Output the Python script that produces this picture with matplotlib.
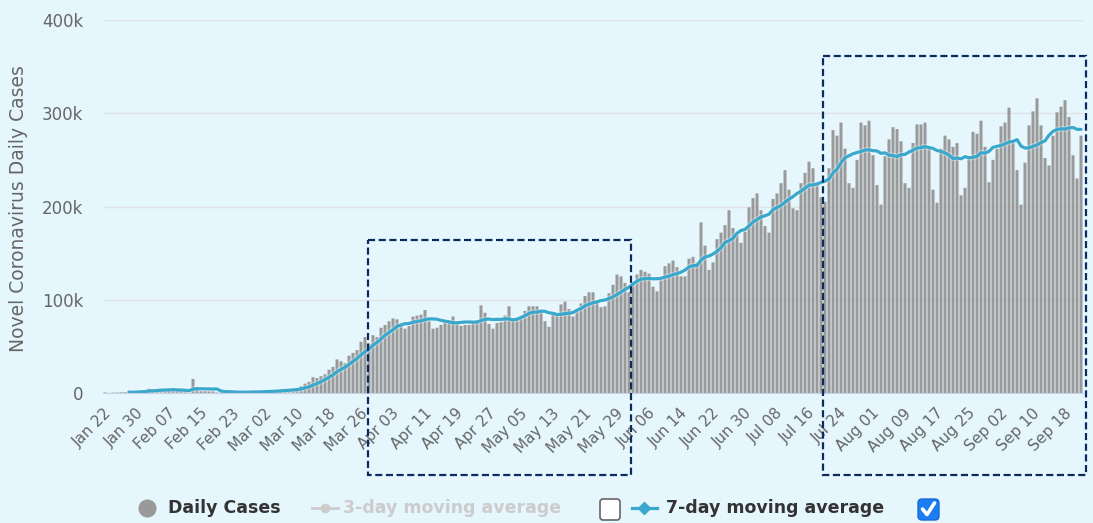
import matplotlib
matplotlib.use("Agg")
import matplotlib.pyplot as plt
import matplotlib.transforms as mtransforms
import numpy as np
import pandas as pd
from matplotlib.patches import Rectangle, FancyBboxPatch
from matplotlib.lines import Line2D

# daily new cases, thousands (2020-01-22 .. 2020-09-22)
start_date = "2020-01-22"
jan = [0.6, 0.1, 0.3, 0.5, 0.7, 0.8, 2.7, 0.6, 2.1, 1.7]
feb = [2.1, 4.7, 3.1, 4.0, 3.7, 3.2, 3.6, 2.7, 3.0, 2.6, 2.0, 0.4, 15.1, 6.5,
       2.0, 2.2, 1.9, 1.9, 0.5, 0.6, 1.0, 1.8, 0.5, 0.6, 0.9, 0.9, 1.1, 1.4, 1.9]
mar = [1.8, 1.8, 2.2, 2.2, 2.7, 4.0, 3.9, 4.1, 4.0, 4.5, 7.4, 10, 12, 17, 16,
       18, 20, 25, 28, 36, 34, 32, 40, 43, 46, 55, 60, 53, 62, 60, 70]
apr = [73, 77, 80, 79, 72, 69, 72, 82, 83, 84, 89, 77, 69, 70, 73, 78, 78, 82,
       77, 72, 73, 73, 77, 78, 94, 86, 74, 69, 75, 76]
may = [83, 93, 79, 79, 82, 88, 93, 93, 93, 87, 77, 71, 84, 84, 95, 98, 90, 82,
       89, 96, 104, 108, 108, 97, 92, 93, 107, 116, 127, 125, 118]
jun = [108, 118, 127, 132, 130, 128, 114, 109, 121, 136, 139, 142, 135, 125,
       125, 144, 146, 140, 183, 158, 132, 140, 165, 172, 180, 196, 177, 169,
       161, 173]
jul = [199, 209, 214, 196, 179, 172, 208, 214, 225, 239, 218, 198, 196, 225,
       236, 248, 241, 225, 210, 205, 241, 282, 276, 290, 262, 225, 220, 250,
       290, 287, 292]
aug = [255, 223, 202, 254, 272, 285, 283, 270, 225, 220, 268, 288, 288, 290,
       264, 218, 204, 262, 276, 272, 264, 268, 212, 220, 254, 280, 278, 292,
       264, 226, 250]
sep = [262, 286, 290, 306, 269, 239, 202, 247, 287, 302, 316, 287, 252, 244,
       276, 301, 307, 314, 296, 255, 230, 276]

y_ticks = [0, 100, 200, 300, 400]
y_tick_labels = ["0", "100k", "200k", "300k", "400k"]

daily = np.array(jan + feb + mar + apr + may + jun + jul + aug + sep) * 1000
dates = pd.date_range(start_date, periods=len(daily), freq="D")
cases = pd.Series(daily, index=dates)
avg7 = cases.rolling(7).mean()

W, H = 1093, 523
BG = "#e6f6fd"
BAR = "#999999"
LINE = "#38a8cd"
NAVY = "#0b2a5e"

fig = plt.figure(figsize=(W / 100, H / 100), dpi=100)
fig.patch.set_facecolor(BG)
ax = fig.add_axes([103 / W, 1 - 393 / H, 980 / W, 373 / H])
ax.set_facecolor(BG)

x = np.arange(len(cases))
bars = ax.bar(x, cases.values, width=0.75, color=BAR, edgecolor="none",
              zorder=2)
for b in bars:
    b.set_snap(False)
ax.plot(x, avg7.values, color="white", lw=4.0, alpha=0.35, zorder=3)
ax.plot(x, avg7.values, color=LINE, lw=2.3, zorder=3, solid_capstyle="round")

ax.set_xlim(-0.5, len(cases) - 0.5)
ax.set_ylim(0, 400000)
ax.set_yticks([v * 1000 for v in y_ticks])
ax.set_yticklabels(y_tick_labels)
ax.set_axisbelow(True)
ax.grid(axis="y", color="#dfe3e5", lw=1.0)
for s in ["top", "right", "left"]:
    ax.spines[s].set_visible(False)
ax.spines["bottom"].set_color("#c8d2e6")
ax.spines["bottom"].set_zorder(4)

ax.set_xticks(x[::8])
ax.set_xticklabels([d.strftime("%b %d") for d in dates[::8]], rotation=45,
                   ha="right", va="center", rotation_mode="anchor")
ax.tick_params(length=0, colors="#666666")
ax.tick_params(axis="x", pad=13, labelsize=11)
ax.tick_params(axis="y", pad=14, labelsize=12)
shift = mtransforms.ScaledTranslation(4 / 100, 0, fig.dpi_scale_trans)
for lab in ax.get_xticklabels():
    lab.set_transform(lab.get_transform() + shift)

fig.text(19 / W, 1 - 209 / H, "Novel Coronavirus Daily Cases", rotation=90,
         ha="center", va="center", fontsize=13.5, color="#666666")

# overlay in pixel coordinates for the boxes and the legend
ov = fig.add_axes([0, 0, 1, 1])
ov.set_xlim(0, W)
ov.set_ylim(H, 0)
ov.axis("off")
ov.patch.set_visible(False)

for (x0, y0, x1, y1) in [(368, 240, 631, 475), (823, 56, 1086, 475)]:
    ov.add_patch(Rectangle((x0, y0), x1 - x0, y1 - y0, fill=False, ec=NAVY,
                           lw=1.6, ls=(0, (3.2, 1.6))))

ly = 508
ov.add_line(Line2D([147], [ly], marker="o", ms=12, color=BAR, ls="none"))
ov.text(168, ly, "Daily Cases", fontsize=12.5, fontweight="bold",
        color="#333333", va="center")
ov.add_line(Line2D([312, 338], [ly, ly], color="#cccccc", lw=2))
ov.add_line(Line2D([325], [ly], marker="o", ms=6, color="#cccccc", ls="none"))
ov.text(343, ly, "3-day moving average", fontsize=12.5, fontweight="bold",
        color="#cccccc", va="center")
ov.add_patch(FancyBboxPatch((600, 499), 20, 21,
                            boxstyle="round,pad=0,rounding_size=3",
                            fc="white", ec="#666666", lw=1.2))
ov.add_line(Line2D([632, 657], [ly, ly], color=LINE, lw=2.3))
ov.add_line(Line2D([644], [ly], marker="D", ms=6, color=LINE, ls="none"))
ov.text(666, ly, "7-day moving average", fontsize=12.5, fontweight="bold",
        color="#333333", va="center")
ov.add_patch(FancyBboxPatch((918, 499), 21, 21,
                            boxstyle="round,pad=0,rounding_size=4",
                            fc="#1b7df3", ec="#176bd6", lw=1))
ov.add_line(Line2D([922.5, 927, 934.5], [509, 514.5, 503], color="white",
                   lw=2.6, solid_capstyle="round", solid_joinstyle="round"))

fig.savefig("out.png", dpi=100, facecolor=BG)
